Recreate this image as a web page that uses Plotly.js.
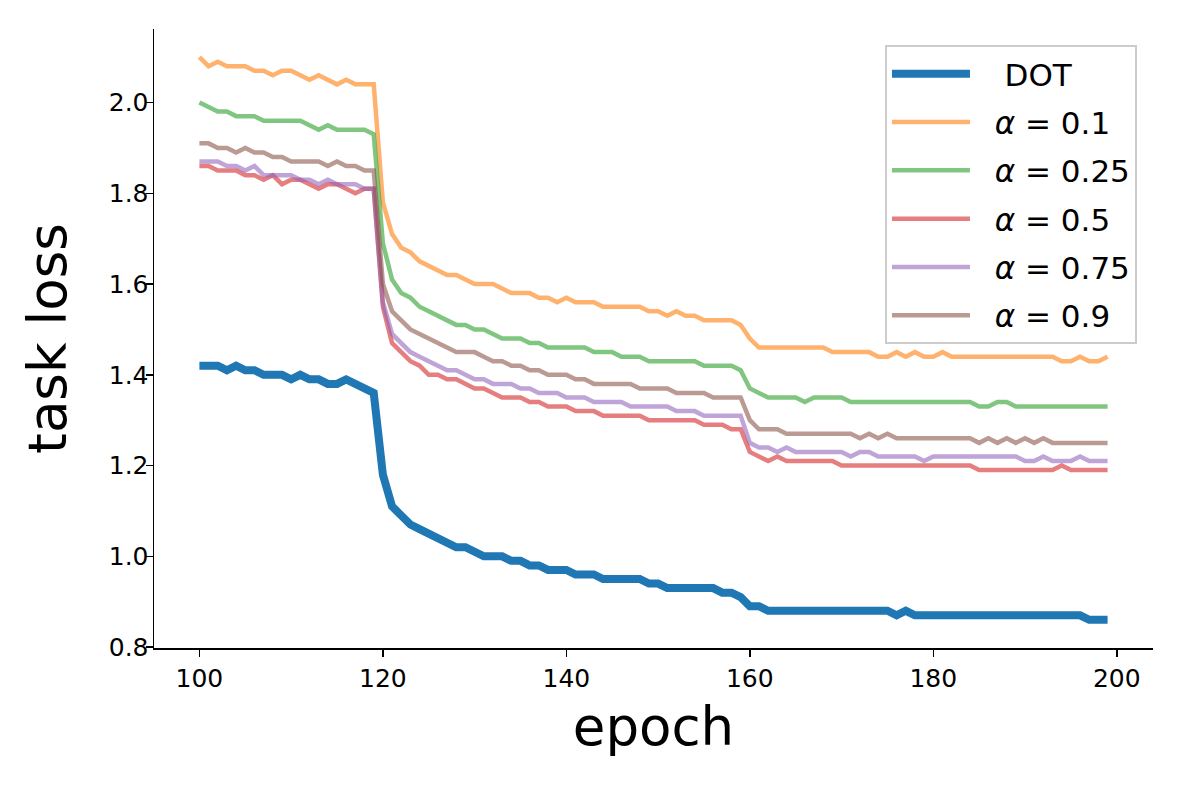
<!DOCTYPE html>
<html>
<head>
<meta charset="utf-8">
<script src="https://cdn.plot.ly/plotly-3.0.1.min.js"></script>
<style>
html,body{margin:0;padding:0;background:#fff;}
#chart{width:1181px;height:787px;}
</style>
</head>
<body>
<div id="chart"></div>
<script>
const epochs = [100,101,102,103,104,105,106,107,108,109,110,111,112,113,114,115,116,117,118,119,
120,121,122,123,124,125,126,127,128,129,130,131,132,133,134,135,136,137,138,139,
140,141,142,143,144,145,146,147,148,149,150,151,152,153,154,155,156,157,158,159,
160,161,162,163,164,165,166,167,168,169,170,171,172,173,174,175,176,177,178,179,
180,181,182,183,184,185,186,187,188,189,190,191,192,193,194,195,196,197,198,199];

const seriesNames = ["   DOT", "  <i>α</i> = 0.1", "  <i>α</i> = 0.25", "  <i>α</i> = 0.5", "  <i>α</i> = 0.75", "  <i>α</i> = 0.9"];

const dot = [1.42,1.42,1.42,1.41,1.42,1.41,1.41,1.40,1.40,1.40,
1.39,1.40,1.39,1.39,1.38,1.38,1.39,1.38,1.37,1.36,
1.18,1.11,1.09,1.07,1.06,1.05,1.04,1.03,1.02,1.02,
1.01,1.00,1.00,1.00,0.99,0.99,0.98,0.98,0.97,0.97,
0.97,0.96,0.96,0.96,0.95,0.95,0.95,0.95,0.95,0.94,
0.94,0.93,0.93,0.93,0.93,0.93,0.93,0.92,0.92,0.91,
0.89,0.89,0.88,0.88,0.88,0.88,0.88,0.88,0.88,0.88,
0.88,0.88,0.88,0.88,0.88,0.88,0.87,0.88,0.87,0.87,
0.87,0.87,0.87,0.87,0.87,0.87,0.87,0.87,0.87,0.87,
0.87,0.87,0.87,0.87,0.87,0.87,0.87,0.86,0.86,0.86];

const a01 = [2.10,2.08,2.09,2.08,2.08,2.08,2.07,2.07,2.06,2.07,
2.07,2.06,2.05,2.06,2.05,2.04,2.05,2.04,2.04,2.04,
1.78,1.71,1.68,1.67,1.65,1.64,1.63,1.62,1.62,1.61,
1.60,1.60,1.60,1.59,1.58,1.58,1.58,1.57,1.57,1.56,
1.57,1.56,1.56,1.56,1.55,1.55,1.55,1.55,1.55,1.54,
1.54,1.53,1.54,1.53,1.53,1.52,1.52,1.52,1.52,1.51,
1.48,1.46,1.46,1.46,1.46,1.46,1.46,1.46,1.46,1.45,
1.45,1.45,1.45,1.45,1.44,1.44,1.45,1.44,1.45,1.44,
1.44,1.45,1.44,1.44,1.44,1.44,1.44,1.44,1.44,1.44,
1.44,1.44,1.44,1.44,1.43,1.43,1.44,1.43,1.43,1.44];

const a025 = [2.00,1.99,1.98,1.98,1.97,1.97,1.97,1.96,1.96,1.96,
1.96,1.96,1.95,1.94,1.95,1.94,1.94,1.94,1.94,1.93,
1.69,1.61,1.58,1.57,1.55,1.54,1.53,1.52,1.51,1.51,
1.50,1.50,1.49,1.48,1.48,1.48,1.47,1.47,1.46,1.46,
1.46,1.46,1.46,1.45,1.45,1.45,1.44,1.44,1.44,1.43,
1.43,1.43,1.43,1.43,1.43,1.42,1.42,1.42,1.42,1.41,
1.37,1.36,1.35,1.35,1.35,1.35,1.34,1.35,1.35,1.35,
1.35,1.34,1.34,1.34,1.34,1.34,1.34,1.34,1.34,1.34,
1.34,1.34,1.34,1.34,1.34,1.33,1.33,1.34,1.34,1.33,
1.33,1.33,1.33,1.33,1.33,1.33,1.33,1.33,1.33,1.33];

const a05 = [1.86,1.86,1.85,1.85,1.85,1.84,1.84,1.83,1.84,1.82,
1.83,1.83,1.82,1.81,1.82,1.82,1.81,1.80,1.81,1.81,
1.55,1.47,1.45,1.43,1.42,1.40,1.40,1.39,1.39,1.38,
1.37,1.37,1.36,1.35,1.35,1.35,1.34,1.34,1.33,1.33,
1.33,1.32,1.32,1.32,1.31,1.31,1.31,1.31,1.31,1.30,
1.30,1.30,1.30,1.30,1.30,1.29,1.29,1.29,1.28,1.28,
1.23,1.22,1.21,1.22,1.21,1.21,1.21,1.21,1.21,1.21,
1.20,1.20,1.20,1.20,1.20,1.20,1.20,1.20,1.20,1.20,
1.20,1.20,1.20,1.20,1.20,1.19,1.19,1.19,1.19,1.19,
1.19,1.19,1.19,1.19,1.20,1.19,1.19,1.19,1.19,1.19];

const a075 = [1.87,1.87,1.87,1.86,1.86,1.85,1.86,1.84,1.84,1.84,
1.84,1.83,1.83,1.82,1.83,1.82,1.82,1.82,1.81,1.81,
1.56,1.49,1.47,1.45,1.44,1.43,1.42,1.41,1.41,1.40,
1.39,1.39,1.38,1.38,1.38,1.37,1.37,1.36,1.36,1.36,
1.35,1.35,1.35,1.34,1.34,1.34,1.34,1.33,1.33,1.33,
1.33,1.33,1.32,1.32,1.32,1.31,1.31,1.31,1.31,1.31,
1.25,1.24,1.24,1.23,1.24,1.23,1.23,1.23,1.23,1.23,
1.23,1.22,1.23,1.23,1.22,1.22,1.22,1.22,1.22,1.21,
1.22,1.22,1.22,1.22,1.22,1.22,1.22,1.22,1.22,1.22,
1.21,1.21,1.22,1.21,1.21,1.21,1.22,1.21,1.21,1.21];

const a09 = [1.91,1.91,1.90,1.90,1.89,1.90,1.89,1.89,1.88,1.88,
1.87,1.87,1.87,1.87,1.86,1.87,1.86,1.86,1.85,1.85,
1.60,1.54,1.52,1.50,1.49,1.48,1.47,1.46,1.45,1.45,
1.45,1.44,1.43,1.43,1.42,1.42,1.41,1.41,1.40,1.40,
1.40,1.39,1.39,1.38,1.38,1.38,1.38,1.38,1.37,1.37,
1.37,1.37,1.36,1.36,1.36,1.36,1.35,1.35,1.35,1.35,
1.30,1.28,1.28,1.28,1.27,1.27,1.27,1.27,1.27,1.27,
1.27,1.27,1.26,1.27,1.26,1.27,1.26,1.26,1.26,1.26,
1.26,1.26,1.26,1.26,1.26,1.25,1.26,1.25,1.26,1.25,
1.26,1.25,1.26,1.25,1.25,1.25,1.25,1.25,1.25,1.25];

const xTicks = [100,120,140,160,180,200];
const yTicks = [0.8,1.0,1.2,1.4,1.6,1.8,2.0];
const yTickText = ["0.8","1.0","1.2","1.4","1.6","1.8","2.0"];

const seriesData = [dot, a01, a025, a05, a075, a09];
const colors = ["#1f77b4","#ff7f0e","#2ca02c","#d62728","#9467bd","#8c564b"];
const widths = [8, 4.5, 4.5, 4.5, 4.5, 4.5];
const opac = [1, 0.6, 0.6, 0.6, 0.6, 0.6];

const traces = seriesData.map((ys, i) => ({
  x: epochs, y: ys, type: "scatter", mode: "lines",
  name: seriesNames[i],
  legendgroup: "g" + i,
  line: {color: colors[i], width: widths[i]},
  opacity: opac[i]
}));

const layout = {
  width: 1181, height: 787,
  margin: {l: 154, r: 28, t: 29, b: 139},
  paper_bgcolor: "#fff", plot_bgcolor: "#fff",
  font: {family: "DejaVu Sans", color: "#000"},
  showlegend: true,
  legend: {
    x: 0.7317, y: 0.974, xanchor: "left", yanchor: "top",
    bgcolor: "rgba(255,255,255,0.8)", bordercolor: "#cccccc", borderwidth: 2,
    font: {family: "DejaVu Sans", size: 31, color: "#000"},
    itemwidth: 78, tracegroupgap: 5
  },
  xaxis: {
    range: [95.05, 203.95], tickvals: xTicks, ticktext: xTicks.map(String),
    showgrid: false, zeroline: false, showline: true, linecolor: "#000", linewidth: 1.5,
    ticks: "outside", ticklen: 7, tickwidth: 1.5, tickcolor: "#000",
    tickfont: {family: "DejaVu Sans", size: 25, color: "#000"},
    title: {text: "epoch", font: {family: "DejaVu Sans", size: 53, color: "#000"}, standoff: 16},
    mirror: false
  },
  yaxis: {
    range: [0.798, 2.162], tickvals: yTicks, ticktext: yTickText,
    showgrid: false, zeroline: false, showline: true, linecolor: "#000", linewidth: 1.5,
    ticks: "outside", ticklen: 7, tickwidth: 1.5, tickcolor: "#000",
    tickfont: {family: "DejaVu Sans", size: 25, color: "#000"},
    ticklabelstandoff: -8,
    title: {text: "task loss", font: {family: "DejaVu Sans", size: 53, color: "#000"}, standoff: 25},
    mirror: false
  }
};

Plotly.newPlot("chart", traces, layout, {staticPlot: true, displayModeBar: false});
</script>
</body>
</html>
